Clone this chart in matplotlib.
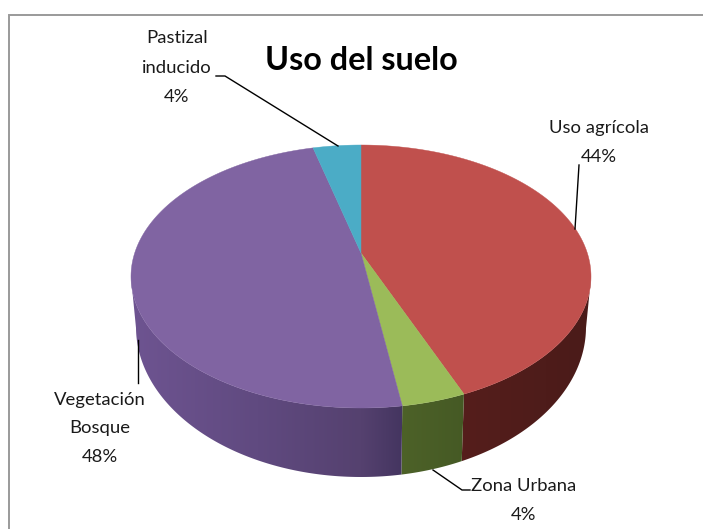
import numpy as np
import matplotlib
matplotlib.use("Agg")
import matplotlib.pyplot as plt
from matplotlib.patches import Polygon

# ---- data ----
categories = ["Uso agrícola", "Zona Urbana", "Vegetación\nBosque", "Pastizal\ninducido"]
values = [43.8, 3.8, 48.4, 4.0]
top_colors = ["#C0504D", "#9BBB59", "#8064A2", "#4BACC6"]
# side shading stops: (x on rim from -1 left to +1 right, colour)
side_stops = [
    [(0.4, "#561E1C"), (1, "#4A1B19")],
    [(0.1, "#4F6429"), (0.5, "#445824")],
    [(-1, "#6E5491"), (-0.45, "#604A80"), (0.0, "#55416F"), (0.18, "#443560")],
    [(-1, "#2F6C7C"), (1, "#2F6C7C")],
]

W, H = 703, 529
fig = plt.figure(figsize=(W / 100, H / 100), dpi=100)
ax = fig.add_axes([0, 0, 1, 1])
ax.set_xlim(0, W)
ax.set_ylim(H, 0)
ax.axis("off")

ax.plot([8.5, 8.5, W], [H, 14.5, 14.5], color="#9A9A9A", lw=1.4, solid_joinstyle="miter", zorder=1)

# geometry of the perspective disc
CX, CY, A, B = 361.0, 276.5, 230.0, 131.5
BCY, BA, BB = 327.0, 225.0, 150.0
C = 23.5
K = C / B
AP = A / (np.sqrt(1 - K ** 2) / (1 - K ** 2))


def rim(t):
    u, v = np.sin(t), np.cos(t)
    w = 1 + K * v
    return CX + AP * u / w, CY - (B * v + C) / w


def lerp_colour(stops, x):
    xs = [s[0] for s in stops]
    rgb = np.array([matplotlib.colors.to_rgb(s[1]) for s in stops])
    return np.stack([np.interp(x, xs, rgb[:, i]) for i in range(3)], axis=-1)


bounds = np.cumsum([0] + values) / sum(values) * 2 * np.pi
apex = (CX, CY - C)

# sides: a horizontal gradient clipped by each slice's wall outline
for i in range(len(values)):
    ts = np.linspace(bounds[i], bounds[i + 1], 300)
    xs, ys = rim(ts)
    keep = ys >= CY
    if keep.sum() < 2:
        continue
    xs, ys = xs[keep], ys[keep]
    nx = np.clip((xs - CX) / A, -1, 1)
    bx = CX + BA * nx
    by = BCY + BB * np.sqrt(1 - nx ** 2)
    outline = list(zip(xs, ys)) + list(zip(bx[::-1], by[::-1]))
    wall = Polygon(outline, closed=True, fc="none", ec="none", transform=ax.transData)
    ax.add_patch(wall)
    x0, x1 = min(xs.min(), bx.min()) - 1, max(xs.max(), bx.max()) + 1
    grad = np.linspace(x0, x1, 400)
    img = lerp_colour(side_stops[i], (grad - CX) / A)[None, :, :]
    im = ax.imshow(img, extent=(x0, x1, by.max() + 2, ys.min() - 2), aspect="auto",
                   interpolation="bilinear", zorder=2)
    im.set_clip_path(wall)
ax.set_xlim(0, W)
ax.set_ylim(H, 0)

# top faces
for i in range(len(values)):
    ts = np.linspace(bounds[i], bounds[i + 1], 240)
    xs, ys = rim(ts)
    pts = [apex] + list(zip(xs, ys))
    ax.add_patch(Polygon(pts, closed=True, fc=top_colors[i], ec=top_colors[i], lw=0.3, zorder=3))

# title and labels
label_font = ["Lato", "DejaVu Sans"]
txt = dict(ha="center", va="center", color="#1A1A1A", fontsize=13.3, family=label_font, zorder=5)
ax.text(361, 60, "Uso del suelo", ha="center", va="center", color="black",
        fontsize=23.3, fontweight="bold", family=label_font, zorder=5)

for s, x, y in [("Pastizal", 177, 38), ("inducido", 177, 68), ("4%", 177, 97)]:
    ax.text(x, y, s, **txt)
for s, x, y in [("Uso agrícola", 599, 128), ("44%", 599, 157)]:
    ax.text(x, y, s, **txt)
for s, x, y in [("Vegetación", 100, 400), ("Bosque", 100, 428), ("48%", 100, 457)]:
    ax.text(x, y, s, **txt)
for s, x, y in [("Zona Urbana", 524, 486), ("4%", 524, 515)]:
    ax.text(x, y, s, **txt)

# leader lines
for lx, ly in [([216, 225, 338], [76, 76, 146]),
               ([579, 575], [165, 229]),
               ([138, 138], [340, 383]),
               ([433, 462, 470], [470, 490, 490])]:
    ax.plot(lx, ly, color="black", lw=1.0, zorder=6, solid_joinstyle="miter")

fig.savefig("out.png", dpi=100, facecolor="white")
